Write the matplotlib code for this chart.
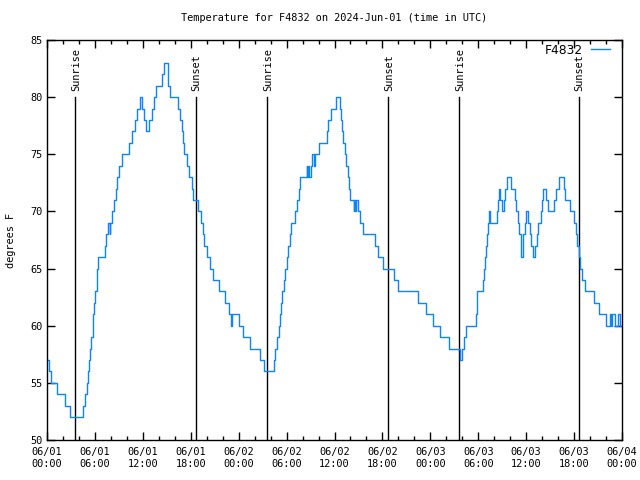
import numpy as np
import matplotlib
matplotlib.use("Agg")
import matplotlib.pyplot as plt

# hours since 2024-06-01 00:00 UTC, temperature in F
hours = [0.0, 0.25, 0.55, 1.3, 2.2, 2.9, 4.45, 4.75, 4.95, 5.1, 5.25, 5.4, 5.55, 5.7,
         5.8, 5.9, 6.05, 6.2, 6.3, 6.4, 7.2, 7.45, 7.65, 7.85, 7.95, 8.2, 8.45, 8.6,
         8.8, 9.0, 9.4, 10.3, 10.6, 11.0, 11.3, 11.7, 11.95, 12.2, 12.4, 12.55, 12.8,
         13.2, 13.4, 13.6, 14.35, 14.7, 15.1, 15.2, 15.35, 16.45, 16.7, 16.85, 17.0,
         17.2, 17.55, 17.75, 18.1, 18.3, 18.9, 19.3, 19.5, 19.7, 20.0, 20.4, 20.8,
         21.55, 22.25, 22.8, 23.05, 23.2, 24.1, 24.6, 25.4, 26.7, 27.2, 28.4, 28.6,
         28.8, 29.0, 29.15, 29.3, 29.45, 29.7, 29.85, 30.0, 30.15, 30.4, 30.55, 31.05,
         31.25, 31.5, 31.7, 32.5, 32.6, 32.7, 32.8, 33.0, 33.2, 33.4, 33.5, 34.0, 35.0,
         35.2, 35.6, 36.2, 36.7, 36.8, 36.9, 37.1, 37.3, 37.5, 37.7, 37.85, 38.0, 38.4,
         38.5, 38.6, 38.65, 38.9, 39.2, 39.6, 41.1, 41.5, 42.1, 43.5, 43.9, 46.5, 47.5,
         48.3, 49.2, 50.4, 51.7, 51.85, 52.0, 52.2, 52.5, 53.75, 53.9, 54.55, 54.7,
         54.8, 54.95, 55.1, 55.25, 55.4, 55.5, 56.3, 56.45, 56.6, 56.75, 57.0, 57.2,
         57.4, 57.6, 58.05, 58.55, 58.75, 58.95, 59.1, 59.3, 59.55, 59.85, 60.0, 60.2,
         60.45, 60.65, 60.85, 61.15, 61.3, 61.5, 61.8, 61.95, 62.1, 62.5, 62.75, 63.5,
         63.75, 64.05, 64.7, 64.8, 65.5, 66.05, 66.25, 66.4, 66.6, 66.8, 67.05, 67.4,
         68.45, 69.15, 70.05, 70.5, 70.65, 70.8, 71.1, 71.5, 71.7, 72.0]
temps = [57, 56, 55, 54, 53, 52, 53, 54, 55, 56, 57, 58, 59, 60,
         61, 62, 63, 64, 65, 66, 67, 68, 69, 68, 69, 70, 71, 72,
         73, 74, 75, 76, 77, 78, 79, 80, 79, 78, 77, 77, 78,
         79, 80, 81, 82, 83, 82, 81, 80, 79, 78, 77, 76,
         75, 74, 73, 72, 71, 70, 69, 68, 67, 66, 65, 64,
         63, 62, 61, 60, 61, 60, 59, 58, 57, 56, 57, 58,
         59, 60, 61, 62, 63, 64, 65, 66, 67, 68, 69, 70,
         71, 72, 73, 74, 73, 74, 73, 74, 75, 74, 75, 76, 77,
         78, 79, 80, 79, 78, 77, 76, 75, 74, 73, 72, 71, 70,
         71, 70, 71, 70, 69, 68, 67, 66, 65, 64, 63, 62, 61,
         60, 59, 58, 57, 57, 58, 59, 60, 61, 63, 64, 65,
         66, 67, 68, 69, 70, 69, 70, 71, 72, 71, 70, 71,
         72, 73, 72, 71, 70, 69, 68, 66, 68, 69, 70, 69,
         68, 67, 66, 67, 68, 69, 70, 71, 72, 71, 70, 71,
         72, 73, 72, 71, 70, 69, 68, 67, 66, 65, 64, 63,
         62, 61, 60, 61, 60, 61, 60, 61, 60, 60]

event_hours = [3.5, 18.65, 27.55, 42.7, 51.6, 66.6]
event_labels = ["Sunrise", "Sunset", "Sunrise", "Sunset", "Sunrise", "Sunset"]

xtick_hours = [0, 6, 12, 18, 24, 30, 36, 42, 48, 54, 60, 66, 72]
xtick_labels = ["06/01\n00:00", "06/01\n06:00", "06/01\n12:00", "06/01\n18:00",
                "06/02\n00:00", "06/02\n06:00", "06/02\n12:00", "06/02\n18:00",
                "06/03\n00:00", "06/03\n06:00", "06/03\n12:00", "06/03\n18:00",
                "06/04\n00:00"]

plt.rcParams['font.family'] = ['DejaVu Sans Mono']
fs = 7.4

fig = plt.figure(figsize=(6.4, 4.8), dpi=100)
ax = fig.add_axes([47/640, 1-440/480, 575/640, 400/480])

for h, lab in zip(event_hours, event_labels):
    ax.plot([h, h], [50, 80], color='black', lw=1.0)
    ax.text(h + 0.1, 80.5, lab, rotation=90, ha='center', va='bottom', fontsize=fs)

ax.step(hours, temps, where='post', color='#0c84fb', lw=1.0, label='F4832')

ax.set_xlim(0, 72)
ax.set_ylim(50, 85)
ax.set_xticks(xtick_hours)
ax.set_xticklabels(xtick_labels, fontsize=fs, linespacing=1.3)
ax.set_xticks(np.arange(0, 72, 2), minor=True)
ax.set_yticks(range(50, 86, 5))
ax.set_yticklabels([str(v) for v in range(50, 86, 5)], fontsize=fs)
ax.tick_params(direction='in', top=True, right=True, which='both')
ax.tick_params(which='major', length=6, width=1)
ax.tick_params(which='minor', length=3, width=1)
ax.tick_params(axis='x', pad=5)
for s in ax.spines.values():
    s.set_linewidth(1.0)

ax.set_ylabel('degrees F', fontsize=fs, labelpad=10)
ax.set_title('Temperature for F4832 on 2024-Jun-01 (time in UTC)', fontsize=fs, pad=14)

leg = ax.legend(loc='upper right', bbox_to_anchor=(0.988, 1.003),
                prop={'family': 'DejaVu Sans', 'size': 8.8},
                frameon=False, markerfirst=False, handlelength=1.6,
                borderaxespad=0, handletextpad=0.6)

fig.savefig('out.png', dpi=100)
